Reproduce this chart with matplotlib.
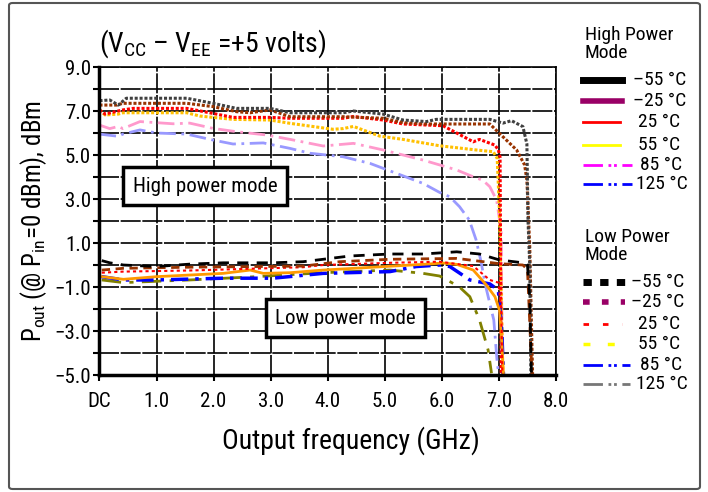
import numpy as np
import matplotlib.pyplot as plt
from matplotlib.lines import Line2D
from matplotlib.patches import FancyBboxPatch

plt.rcParams['font.family'] = ['Roboto Condensed', 'DejaVu Sans']
plt.rcParams['mathtext.fontset'] = 'custom'
plt.rcParams['mathtext.rm'] = 'Roboto Condensed'
plt.rcParams['mathtext.it'] = 'Roboto Condensed'
plt.rcParams['mathtext.bf'] = 'Roboto Condensed'

# ---- high power mode curves (GHz, dBm)
hp_m55_x = [0.0, 0.18, 0.33, 0.47, 1.0, 1.53, 1.99, 2.40, 2.99, 3.34, 4.27, 4.45, 4.97, 5.32, 5.73, 5.90, 6.84, 7.07, 7.22, 7.42, 7.49, 7.51, 7.54, 7.56]
hp_m55_y = [7.47, 7.5, 7.27, 7.58, 7.58, 7.58, 7.35, 7.12, 7.12, 6.92, 6.92, 7.0, 6.86, 6.59, 6.52, 6.62, 6.62, 6.45, 6.56, 6.29, 5.5, 2.0, 0.0, -5.0]
hp_m25_x = [0.0, 0.30, 0.41, 1.53, 1.99, 2.40, 2.64, 2.99, 3.34, 4.27, 4.97, 5.32, 5.73, 6.84, 7.07, 7.31, 7.45, 7.49, 7.54, 7.59]
hp_m25_y = [7.27, 7.27, 7.35, 7.35, 7.2, 6.97, 6.92, 7.05, 6.74, 6.74, 6.67, 6.47, 6.41, 6.41, 5.83, 5.23, 4.55, 3.86, 0.83, -5.0]
hp_25_x = [0.0, 0.10, 0.41, 0.59, 1.53, 1.99, 2.34, 2.99, 3.34, 4.27, 4.45, 4.97, 5.32, 6.02, 6.55, 6.66, 6.93, 6.99, 7.02, 7.04]
hp_25_y = [7.05, 6.86, 7.05, 7.12, 7.12, 6.89, 6.71, 6.71, 6.67, 6.67, 6.75, 6.59, 6.41, 6.33, 5.6, 5.71, 5.45, 5.23, 4.9, -5.0]
hp_55_x = [0.0, 0.10, 0.33, 0.41, 1.53, 1.76, 2.34, 2.99, 3.34, 4.09, 4.27, 4.45, 4.91, 5.32, 5.96, 6.60, 6.90, 6.97, 7.01, 7.07]
hp_55_y = [7.05, 6.82, 6.86, 6.92, 6.92, 6.77, 6.62, 6.59, 6.44, 6.17, 6.2, 6.3, 5.86, 5.71, 5.42, 5.23, 5.15, 4.85, 2.36, -5.0]
hp_85_x = [0.0, 0.18, 0.33, 0.41, 0.71, 1.29, 1.58, 1.99, 2.40, 2.93, 3.34, 3.92, 4.45, 4.97, 5.67, 6.26, 6.55, 6.72, 6.84, 6.96, 7.04, 7.06]
hp_85_y = [6.36, 6.2, 6.3, 6.2, 6.52, 6.42, 6.45, 6.21, 6.06, 5.91, 5.71, 5.41, 5.53, 5.23, 4.77, 4.32, 4.01, 3.85, 3.56, 2.95, 1.5, -5.0]
hp_125_x = [0.0, 0.33, 0.41, 0.71, 1.0, 1.53, 1.99, 2.34, 2.87, 3.34, 3.69, 4.27, 4.74, 5.20, 5.67, 5.96, 6.14, 6.31, 6.48, 6.60, 6.68, 6.77, 6.91, 6.97, 7.0]
hp_125_y = [5.95, 5.85, 5.95, 6.14, 6.0, 5.95, 5.68, 5.5, 5.55, 5.3, 5.08, 4.92, 4.62, 4.17, 3.71, 3.3, 3.1, 2.65, 2.05, 1.14, 0.23, -0.99, -2.5, -4.45, -5.0]

# ---- low power mode curves
lp_m55_x = [0.04, 0.18, 0.42, 1.0, 1.58, 2.17, 3.04, 3.57, 3.92, 4.39, 5.09, 5.67, 6.26, 6.66, 7.01, 7.42, 7.50, 7.54, 7.57]
lp_m55_y = [0.2, 0.1, 0.0, -0.07, 0.04, 0.1, 0.1, 0.15, 0.26, 0.41, 0.5, 0.5, 0.6, 0.5, 0.23, 0.1, 0.0, -1.5, -5.0]
lp_m25_x = [0.04, 0.42, 1.58, 3.57, 4.21, 5.09, 6.26, 7.01, 7.42, 7.50, 7.58]
lp_m25_y = [-0.23, -0.15, -0.1, -0.05, 0.15, 0.26, 0.3, 0.06, 0.0, -0.2, -5.0]
lp_25_x = [0.04, 0.42, 1.58, 3.57, 3.92, 5.09, 5.96, 6.55, 6.84, 6.99, 7.04, 7.06]
lp_25_y = [-0.35, -0.3, -0.25, -0.1, 0.0, 0.1, 0.15, -0.05, -0.68, -0.8, -2.0, -5.0]
lp_55_x = [0.04, 0.42, 1.0, 2.17, 2.64, 2.87, 3.34, 3.92, 5.67, 6.02, 6.26, 6.55, 6.78, 6.93, 7.01, 7.05, 7.08]
lp_55_y = [-0.53, -0.65, -0.53, -0.38, -0.23, -0.38, -0.35, -0.23, 0.03, 0.09, 0.03, -0.23, -0.91, -1.44, -2.05, -3.5, -5.0]
lp_85_x = [0.04, 0.42, 1.0, 2.17, 3.04, 3.92, 5.09, 5.55, 5.96, 6.14, 6.49, 6.84, 6.99, 7.05, 7.08]
lp_85_y = [-0.53, -0.68, -0.68, -0.6, -0.6, -0.38, -0.3, -0.07, 0.0, -0.07, -0.68, -0.86, -1.14, -3.0, -5.0]
lp_125_x = [0.04, 0.42, 1.58, 2.75, 3.92, 5.09, 5.67, 5.96, 6.30, 6.49, 6.66, 6.81, 6.87]
lp_125_y = [-0.68, -0.8, -0.68, -0.53, -0.35, -0.23, -0.38, -0.5, -0.98, -1.44, -2.5, -3.86, -4.92]

temps = ['\u201355 \u00b0C', '\u201325 \u00b0C', '25 \u00b0C', '55 \u00b0C', '85 \u00b0C', '125 \u00b0C']
x_ticklabels = ['DC', '1.0', '2.0', '3.0', '4.0', '5.0', '6.0', '7.0', '8.0']

fig = plt.figure(figsize=(7.08, 4.92), dpi=100)
ax = fig.add_axes([0.1405, 0.2378, 0.6448, 0.626])

dot = (0, (1, 0.6))
dd = (0, (6, 2, 1, 2))
ax.plot(hp_125_x, hp_125_y, color='#9999ff', lw=2, ls=dd)
ax.plot(hp_85_x, hp_85_y, color='#ff99cc', lw=2, ls=dd)
ax.plot(hp_55_x, hp_55_y, color='#ffc000', lw=2.2, ls=dot)
ax.plot(hp_25_x, hp_25_y, color='#ff0000', lw=2.2, ls=dot)
ax.plot(hp_m25_x, hp_m25_y, color='#993300', lw=2.2, ls=dot)
ax.plot(hp_m55_x, hp_m55_y, color='#404040', lw=2.2, ls=dot)

ax.plot(lp_125_x, lp_125_y, color='#808000', lw=2, ls=(0, (7, 3, 1.5, 3)))
ax.plot(lp_85_x, lp_85_y, color='#0000ff', lw=2.5, ls=(0, (5, 2, 1, 2)))
ax.plot(lp_55_x, lp_55_y, color='#ff9900', lw=2)
ax.plot(lp_25_x, lp_25_y, color='#ff0000', lw=1.5, ls=(0, (1.5, 1.5)))
ax.plot(lp_m25_x, lp_m25_y, color='#993300', lw=2, ls=(0, (3, 2)))
ax.plot(lp_m55_x, lp_m55_y, color='black', lw=2, ls=(0, (4, 3)))

ax.set_xlim(0, 8)
ax.set_ylim(-5, 9)
ax.set_xticks(np.arange(0, 9))
ax.set_xticklabels(x_ticklabels, fontsize=15)
yt = np.arange(-5, 10)
ax.set_yticks(yt)
ax.set_yticklabels([(f'{v:.1f}'.replace('-', '\u2212') if v % 2 else '') for v in yt], fontsize=15)
ax.tick_params(direction='out', length=4, width=1.5, pad=2)
ax.tick_params(axis='x', pad=8)
ax.grid(True, color='black', lw=1.2, ls=(0, (12, 1)))
for s in ['top', 'right']:
    ax.spines[s].set_linewidth(1.2)
    ax.spines[s].set_linestyle((0, (12, 1)))
for s in ['bottom', 'left']:
    ax.spines[s].set_linewidth(2.5)

ax.set_xlabel('Output frequency (GHz)', fontsize=20)
ax.xaxis.set_label_coords(0.551, -0.165)
ax.set_ylabel('P$_\\mathregular{out}$ (@ P$_\\mathregular{in}$=0 dBm), dBm', fontsize=18, labelpad=4)
ax.text(0.0, 9.3, '(V$_\\mathregular{CC}$ \u2013 V$_\\mathregular{EE}$ =+5 volts)', fontsize=20, va='bottom', ha='left')

box = dict(boxstyle='square,pad=0.45', fc='white', ec='black', lw=2.5)
ax.text(1.85, 3.59, 'High power mode', fontsize=15, ha='center', va='center', bbox=box, zorder=5)
ax.text(4.31, -2.42, 'Low power mode', fontsize=15, ha='center', va='center', bbox=box, zorder=5)

# ---- hand-made legend (figure pixel coords)
W, H = 708, 492
def fx(p):
    return p / W
def fy(p):
    return 1 - p / H

fig.text(fx(585), fy(44), 'High Power\nMode', fontsize=14, va='center', ha='left', linespacing=0.95)
fig.text(fx(585), fy(246), 'Low Power\nMode', fontsize=14, va='center', ha='left', linespacing=0.95)

hp_y = [80, 101, 122, 145, 165, 184]
hp_sty = [('black', 5, '-', 622), ('#990066', 4, '-', 622), ('#ff0000', 2, '-', 620), ('#ffff00', 2, '-', 620),
          ('#ff00ff', 2, (0, (7, 2, 1, 1, 1, 2)), 632), ('#0000ff', 2, (0, (7, 2, 1, 1, 1, 2)), 632)]
hp_tx = [633, 633, 638, 638, 640, 636]
for i in range(6):
    c, lw, ls, x2 = hp_sty[i]
    fig.add_artist(Line2D([fx(583), fx(x2)], [fy(hp_y[i]), fy(hp_y[i])], color=c, lw=lw, ls=ls))
    fig.text(fx(hp_tx[i]), fy(hp_y[i]), temps[i], fontsize=14, va='center', ha='left')

lp_y = [282, 302, 324, 344, 365, 384]
lp_sty = [('black', 5, (0, (1.2, 1.2)), 625), ('#990066', 4, (0, (1.2, 2.2)), 625), ('#ff0000', 2, (0, (2, 5)), 622),
          ('#ffff00', 2.5, (0, (2, 5)), 622), ('#0000ff', 2, (0, (7, 2, 1, 1, 1, 2)), 630), ('#777777', 2, (0, (7, 2, 1, 1, 1, 2)), 630)]
lp_tx = [631, 631, 638, 638, 640, 636]
for i in range(6):
    c, lw, ls, x2 = lp_sty[i]
    fig.add_artist(Line2D([fx(583), fx(x2)], [fy(lp_y[i]), fy(lp_y[i])], color=c, lw=lw, ls=ls))
    fig.text(fx(lp_tx[i]), fy(lp_y[i]), temps[i], fontsize=14, va='center', ha='left')

# outer frame
fig.add_artist(FancyBboxPatch((fx(9), fy(489)), fx(691), 486 / H, boxstyle='round,pad=0,rounding_size=0.005',
                              transform=fig.transFigure, fc='none', ec='#555555', lw=1.5))

fig.savefig('out.png', dpi=100)
